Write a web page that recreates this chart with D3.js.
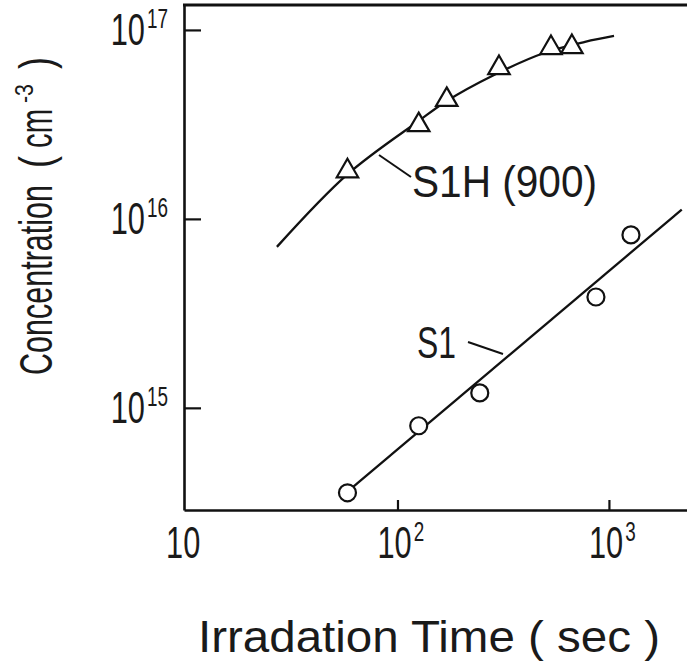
<!DOCTYPE html>
<html>
<head>
<meta charset="utf-8">
<script src="https://cdn.jsdelivr.net/npm/d3@7"></script>
<style>
  html, body { margin: 0; padding: 0; background: #fff; }
  svg { display: block; }
  text { font-family: "Liberation Sans", Arial, sans-serif; fill: #1a1a1a; }
</style>
</head>
<body>
<svg id="chart" width="687" height="663"></svg>
<script>
// Measured samples: S1H (900) annealed sample, triangles
const timeS1H = [58, 126, 171, 302, 532, 668];
const concS1H = [1.79e16, 3.14e16, 4.27e16, 6.29e16, 8.04e16, 8.13e16];

// Measured samples: S1, circles
const timeS1 = [58, 126, 245, 868, 1271];
const concS1 = [3.55e14, 8.04e14, 1.20e15, 3.86e15, 8.23e15];

// Guide curve through the S1H data
const fitTimeS1H = [26.9, 58.3, 126, 171, 280, 493, 771, 1057];
const fitConcS1H = [7.11e15, 1.73e16, 3.30e16, 4.21e16, 5.71e16, 7.55e16, 8.65e16, 9.29e16];

// Straight fit through the S1 data
const fitTimeS1 = [58, 2210];
const fitConcS1 = [3.6e14, 1.12e16];

// Axis ticks and their labels (base with superscript exponent)
const xTicks = [10, 100, 1000];
const xTickExp = ["", "2", "3"];
const yTicks = [1e15, 1e16, 1e17];
const yTickExp = ["15", "16", "17"];

const svg = d3.select("#chart");
svg.append("rect").attr("width", 687).attr("height", 663).attr("fill", "#fff");

const plot = { left: 184, right: 687, top: 5, bottom: 510 };

const x = d3.scaleLog().domain([9.78, 2340]).range([plot.left, plot.right]);
const y = d3.scaleLog().domain([2.88e14, 1.355e17]).range([plot.bottom, plot.top]);

const ink = "#111";

// Axes with inward ticks
const gx = svg.append("g")
  .attr("transform", `translate(0,${plot.bottom})`)
  .call(d3.axisBottom(x).tickValues([100, 1000]).tickSizeInner(-10).tickSizeOuter(0).tickFormat(""));
const gy = svg.append("g")
  .attr("transform", `translate(${plot.left},0)`)
  .call(d3.axisLeft(y).tickValues(yTicks).tickSizeInner(-17).tickSizeOuter(0).tickFormat(""));
[gx, gy].forEach(g => {
  g.selectAll("path.domain").attr("stroke", ink).attr("stroke-width", 2.6);
  g.selectAll(".tick line").attr("stroke", ink).attr("stroke-width", 2.2);
});

// Top frame line
svg.append("line")
  .attr("x1", plot.left - 1).attr("x2", plot.right)
  .attr("y1", plot.top).attr("y2", plot.top)
  .attr("stroke", ink).attr("stroke-width", 3);

// Power-of-ten label: one text element, base "10" plus a raised exponent,
// squeezed horizontally to the narrow lettering of the figure.
function powerLabel(px, py, exp, anchor) {
  const g = svg.append("g").attr("transform", `translate(${px},${py}) scale(0.7,1)`);
  const t = g.append("text").attr("text-anchor", anchor).attr("font-size", 44);
  t.append("tspan").text("10");
  if (exp) {
    t.append("tspan").attr("font-size", 27).attr("dx", 3).attr("dy", -17).text(exp);
  }
}

xTicks.forEach((t, i) => powerLabel(x(t) - 20, 558, xTickExp[i], "start"));
yTicks.forEach((t, i) => powerLabel(168, y(t) + 15, yTickExp[i], "end"));

// Axis titles
svg.append("text")
  .attr("x", 198).attr("y", 652)
  .attr("font-size", 44)
  .attr("textLength", 462).attr("lengthAdjust", "spacingAndGlyphs")
  .text("Irradation Time ( sec )");

const yt = svg.append("g").attr("transform", "translate(52,375) rotate(-90)");
yt.append("text").attr("x", 0).attr("y", 0).attr("font-size", 46)
  .attr("textLength", 190).attr("lengthAdjust", "spacingAndGlyphs").text("Concentration");
yt.append("text").attr("x", 207).attr("y", 0).attr("font-size", 46)
  .attr("textLength", 12).attr("lengthAdjust", "spacingAndGlyphs").text("(");
yt.append("text").attr("x", 227).attr("y", 0).attr("font-size", 46)
  .attr("textLength", 39).attr("lengthAdjust", "spacingAndGlyphs").text("cm");
yt.append("text").attr("x", 272).attr("y", -19).attr("font-size", 25)
  .attr("textLength", 19).attr("lengthAdjust", "spacingAndGlyphs").text("-3");
yt.append("text").attr("x", 306).attr("y", 0).attr("font-size", 46)
  .attr("textLength", 12).attr("lengthAdjust", "spacingAndGlyphs").text(")");

// Fit lines
const line = d3.line().x(d => x(d[0])).y(d => y(d[1]));
svg.append("path")
  .datum(fitTimeS1H.map((t, i) => [t, fitConcS1H[i]]))
  .attr("d", line.curve(d3.curveCatmullRom.alpha(0.5)))
  .attr("fill", "none").attr("stroke", ink).attr("stroke-width", 2.3);
svg.append("path")
  .datum(fitTimeS1.map((t, i) => [t, fitConcS1[i]]))
  .attr("d", d3.line().x(d => x(d[0])).y(d => y(d[1])))
  .attr("fill", "none").attr("stroke", ink).attr("stroke-width", 2.3);

// Markers
const tri = d3.symbol().type(d3.symbolTriangle).size(200);
svg.append("g").selectAll("path")
  .data(timeS1H.map((t, i) => [t, concS1H[i]]))
  .join("path")
  .attr("d", tri)
  .attr("transform", d => `translate(${x(d[0])},${y(d[1])})`)
  .attr("fill", "#fff").attr("stroke", ink).attr("stroke-width", 2.2);

svg.append("g").selectAll("circle")
  .data(timeS1.map((t, i) => [t, concS1[i]]))
  .join("circle")
  .attr("cx", d => x(d[0])).attr("cy", d => y(d[1])).attr("r", 8.5)
  .attr("fill", "#fff").attr("stroke", ink).attr("stroke-width", 2.2);

// Series labels with leader lines
svg.append("line").attr("x1", 379).attr("y1", 155).attr("x2", 411).attr("y2", 177)
  .attr("stroke", ink).attr("stroke-width", 2);
svg.append("text").attr("x", 412).attr("y", 197).attr("font-size", 44)
  .attr("textLength", 185).attr("lengthAdjust", "spacingAndGlyphs").text("S1H (900)");

svg.append("line").attr("x1", 468).attr("y1", 342).attr("x2", 503).attr("y2", 354)
  .attr("stroke", ink).attr("stroke-width", 2);
svg.append("text").attr("x", 417).attr("y", 358).attr("font-size", 44)
  .attr("textLength", 39).attr("lengthAdjust", "spacingAndGlyphs").text("S1");
</script>
</body>
</html>
